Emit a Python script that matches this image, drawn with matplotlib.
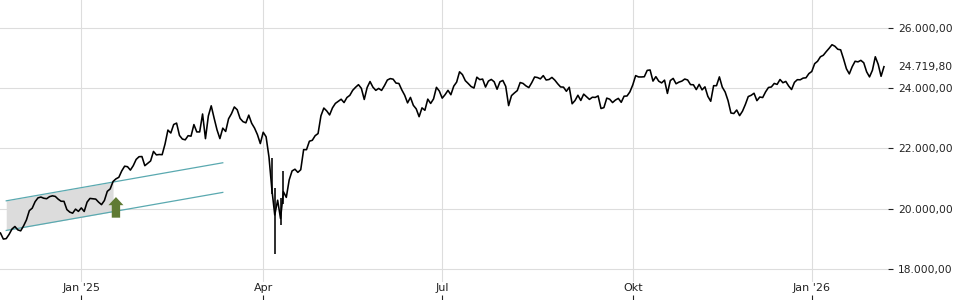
import numpy as np
import pandas as pd
import matplotlib
matplotlib.use("Agg")
import matplotlib.pyplot as plt
from matplotlib.patches import FancyArrow

# ---------------- data (daily closes, trading days) ----------------
nov_2024 = [19189, 18988, 19004, 19146, 19323, 19406, 19295, 19262, 19426, 19626]
dec_2024 = [19934, 20016, 20232, 20359, 20385, 20346, 20330, 20399, 20426, 20406,
            20314, 20246, 20243, 19969, 19885, 19849, 19984, 19909]
jan_2025 = [20024, 19906, 20217, 20340, 20329, 20317, 20215, 20133, 20271, 20575,
            20655, 20903, 20990, 21042, 21254, 21411, 21395, 21282, 21430, 21637,
            21727, 21732]
feb_2025 = [21428, 21505, 21586, 21902, 21787, 21800, 21794, 22149, 22612, 22514,
            22798, 22844, 22434, 22314, 22288, 22426, 22410, 22795, 22551, 22551]
mar_2025 = [23147, 22327, 23081, 23419, 23009, 22621, 22329, 22676, 22567, 22987,
            23155, 23381, 23288, 22999, 22892, 22853, 23109, 22839, 22679, 22461,
            22163]
apr_2025 = [22540, 22390, 21717, 20642, 19790, 20280, 19671, 20563, 20374, 20955,
            21254, 21311, 21206, 21294, 21962, 21961, 22242, 22272, 22426, 22497]
may_2025 = [23087, 23345, 23249, 23116, 23352, 23499, 23567, 23638, 23527, 23695,
            23767, 23935, 24036, 24122, 23999, 23630, 24027, 24226, 24039, 23933,
            23997]
jun_2025 = [23931, 24091, 24276, 24324, 24304, 24174, 24162, 23949, 23771, 23516,
            23699, 23435, 23317, 23057, 23351, 23270, 23641, 23498, 23649, 24033,
            23910]
jul_2025 = [23673, 23790, 23934, 23787, 24073, 24207, 24550, 24457, 24255, 24161,
            24060, 24010, 24371, 24290, 24308, 24042, 24241, 24296, 24218, 23970,
            24217, 24262, 24065]
aug_2025 = [23426, 23758, 23846, 23925, 24193, 24163, 24082, 24025, 24186, 24377,
            24359, 24315, 24423, 24277, 24294, 24363, 24273, 24152, 24046, 24040,
            23902]
sep_2025 = [24037, 23487, 23595, 23770, 23597, 23807, 23718, 23632, 23704, 23698,
            23749, 23329, 23359, 23675, 23639, 23527, 23611, 23666, 23535, 23739,
            23745, 23881]
oct_2025 = [24114, 24423, 24379, 24378, 24386, 24597, 24611, 24241, 24388, 24237,
            24181, 24272, 23831, 24259, 24330, 24152, 24207, 24240, 24309, 24278,
            24124, 24119, 23958]
nov_2025 = [24132, 23949, 24050, 23734, 23570, 24088, 24088, 24381, 24041, 23877,
            23591, 23180, 23163, 23279, 23092, 23240, 23465, 23727, 23768, 23837]
dec_2025 = [23590, 23711, 23694, 23882, 24028, 24046, 24163, 24131, 24294, 24186,
            24230, 24077, 23960, 24200, 24288, 24284, 24340, 24351, 24490]
jan_2026 = [24560, 24820, 24900, 25050, 25100, 25220, 25330, 25450, 25400, 25300,
            25280, 24980, 24650, 24480, 24720, 24900, 24880, 24930, 24850, 24550,
            24380]
feb_2026 = [24600, 25050, 24800, 24400, 24719.80]

# intraday extremes on a few volatile days
wick_dates = ["2025-04-04", "2025-04-07", "2025-04-09", "2025-04-10"]
wick_low = [20500, 18490, 19440, 20150]
wick_high = [21700, 20700, 20350, 21250]

# channel drawn on the chart
channel_dates = ["2024-11-20", "2025-03-12"]
channel_upper = [20260, 21525]
channel_lower = [19275, 20540]
channel_fill_end = "2025-01-17"
arrow_date = "2025-01-20"
arrow_base, arrow_tip = 19700, 20385

y_ticks = [18000, 20000, 22000, 24000, 26000]
month_names = {1: "Jan", 4: "Apr", 7: "Jul", 10: "Okt"}

holidays = ["2024-12-24", "2024-12-25", "2024-12-26", "2024-12-31", "2025-01-01",
            "2025-04-18", "2025-04-21", "2025-05-01", "2025-12-24", "2025-12-25",
            "2025-12-26", "2025-12-31", "2026-01-01"]

# ---------------- build ----------------
close = np.array(nov_2024 + dec_2024 + jan_2025 + feb_2025 + mar_2025 + apr_2025 +
                 may_2025 + jun_2025 + jul_2025 + aug_2025 + sep_2025 + oct_2025 +
                 nov_2025 + dec_2025 + jan_2026 + feb_2026, dtype=float)
dates = pd.bdate_range("2024-11-18", "2026-02-06", freq="C", holidays=holidays)
n = min(len(dates), len(close))
dates = dates[:n]
close = close[:n]
xs = np.arange(n)
pos = {d.strftime("%Y-%m-%d"): i for i, d in enumerate(dates)}


def de_fmt(v):
    s = f"{v:,.2f}"
    return s.replace(",", "X").replace(".", ",").replace("X", ".")


W, H = 960, 300
fig = plt.figure(figsize=(W / 100, H / 100), dpi=100)
ax_right = 888 / W
ax = fig.add_axes([0, 18 / H, ax_right, 1 - 18 / H])
ax2 = fig.add_axes([0, 0, ax_right, 18 / H], sharex=ax)

ax.set_xlim(-0.16, 307.4)
ax.set_ylim(17561, 26937)

for s in ax.spines.values():
    s.set_visible(False)
for s in ax2.spines.values():
    s.set_visible(False)

# grid
tick_idx, tick_lbl = [], []
prev_month = None
for i, d in enumerate(dates):
    if d.month != prev_month and d.month in month_names and i > 0:
        tick_idx.append(i)
        tick_lbl.append(f"Jan '{d.year % 100:02d}" if d.month == 1 else month_names[d.month])
    prev_month = d.month

ax.set_xticks(tick_idx)
ax.tick_params(axis="x", length=0, labelbottom=False)
ax.grid(True, color="#dddddd", lw=0.8, zorder=0)
ax.set_axisbelow(True)

ax.yaxis.tick_right()
ax.set_yticks(y_ticks)
ax.set_yticklabels([de_fmt(v) for v in y_ticks])
ax.tick_params(axis="y", length=3.6, width=0.8, pad=3.6, labelsize=7.7,
               colors="#222222")

# channel
cx = [pos[d] for d in channel_dates]
ax.plot(cx, channel_upper, color="#5aa9b0", lw=0.9, zorder=2)
ax.plot(cx, channel_lower, color="#5aa9b0", lw=0.9, zorder=2)
fx = np.array([cx[0], pos[channel_fill_end]])
ax.fill_between(fx, np.interp(fx, cx, channel_lower), np.interp(fx, cx, channel_upper),
                color="#dcdcdc", lw=0, zorder=1)

# arrow
ax.add_patch(FancyArrow(pos[arrow_date], arrow_base, 0, arrow_tip - arrow_base,
                        width=2.9, head_width=5.2, head_length=270,
                        length_includes_head=True, color="#5f7a33", lw=0, zorder=3))

# price
ax.plot(xs, close, color="black", lw=1.15, zorder=4)
ax.vlines([pos[d] for d in wick_dates], wick_low, wick_high, color="black",
          lw=1.15, zorder=4)

# last value label
ax.annotate(de_fmt(close[-1]), xy=(1, close[-1]), xycoords=ax.get_yaxis_transform(),
            xytext=(7.2, 0), textcoords="offset points", va="center", ha="left",
            fontsize=7.7, color="#222222")

# bottom axis with ticks
ax2.set_yticks([])
ax2.set_xticks(tick_idx)
ax2.set_xticklabels(tick_lbl)
ax2.tick_params(axis="x", direction="in", length=3.6, width=0.8, pad=-12,
                labelsize=8, colors="#222222")
ax2.patch.set_alpha(0)

fig.savefig("out.png", dpi=100)
